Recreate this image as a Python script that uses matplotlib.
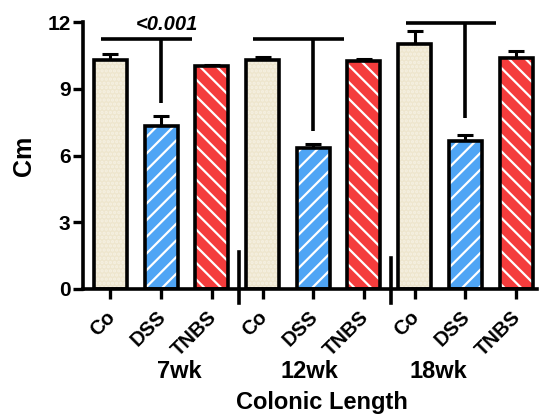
import numpy as np
import matplotlib
matplotlib.use("Agg")
import matplotlib.pyplot as plt

plt.rcParams["font.family"] = ["Liberation Sans", "DejaVu Sans"]
plt.rcParams["font.weight"] = "bold"
plt.rcParams["hatch.linewidth"] = 1.6

groups = ["7wk", "12wk", "18wk"]
treatments = ["Co", "DSS", "TNBS"]
means = [10.29, 7.33, 10.02, 10.29, 6.32, 10.25, 11.0, 6.67, 10.37]
errors = [0.26, 0.45, 0.04, 0.12, 0.20, 0.10, 0.61, 0.25, 0.34]
p_label = "<0.001"
bracket_y = [11.22, 11.22, 11.94]
bracket_bottom = [8.35, 7.11, 7.67]

fills = {"Co": "#EEE6CE", "DSS": "#4FA5F5", "TNBS": "#F43C3C"}
hatches = {"Co": "....", "DSS": "//", "TNBS": "\\\\"}
hatch_cols = {"Co": "#F6F1E3", "DSS": "white", "TNBS": "white"}

fig = plt.figure(figsize=(5.39, 4.17), dpi=100)
ax = fig.add_axes([0.154, 0.307, 0.842, 0.640])

x = np.arange(len(means))
labels = treatments * len(groups)
w = 0.65
for xi, m, e, lab in zip(x, means, errors, labels):
    ax.bar(xi, m, width=w, color=fills[lab], edgecolor=hatch_cols[lab],
           hatch=hatches[lab], linewidth=0, zorder=2)
    ax.bar(xi, m, width=w, facecolor="none", edgecolor="black",
           linewidth=2.6, zorder=3)
    ax.errorbar(xi, m, yerr=[[0], [e]], color="black", capsize=6,
                elinewidth=2.2, capthick=2.2, zorder=1)

# significance brackets
for g in range(len(groups)):
    c = g * 3
    ax.plot([c - 0.18, c + 1.61], [bracket_y[g]] * 2, color="black",
            lw=2.6, clip_on=False, solid_capstyle="butt")
    ax.plot([c + 1, c + 1], [bracket_y[g], bracket_bottom[g]], color="black",
            lw=2.6, clip_on=False, solid_capstyle="butt")
ax.text(1.12, 11.9, p_label, ha="center", va="center", fontsize=14.5,
        fontstyle="italic", fontweight="bold")

# axis break marks
for bx, top in [(2.53, 1.66), (5.53, 1.39)]:
    ax.plot([bx, bx], [top, -0.63], color="black", lw=2.6, clip_on=False)

ax.set_xlim(-0.54, 8.41)
ax.set_ylim(0, 12)
ax.set_yticks([0, 3, 6, 9, 12])
ax.set_xticks(x)
ax.set_xticklabels([])
# rotated category labels, placed by hand to sit tight under the ticks
for xi, lab in zip(x, labels):
    ax.annotate(lab, xy=(xi, 0), xycoords=("data", "axes fraction"),
                xytext=(-3.6, -13.3), textcoords="offset points",
                rotation=45, ha="right", va="top", rotation_mode="anchor",
                fontsize=14.5, fontweight="bold")
ax.tick_params(axis="x", length=7, width=2.4)
ax.tick_params(axis="y", length=7, width=2.4, labelsize=15, pad=2)
for lab in ax.get_yticklabels():
    lab.set_fontweight("bold")
for s in ["top", "right"]:
    ax.spines[s].set_visible(False)
for s in ["left", "bottom"]:
    ax.spines[s].set_linewidth(2.6)

ax.set_ylabel("Cm", fontsize=18, fontweight="bold", labelpad=8)

for g, gx in zip(groups, [1.36, 3.93, 6.46]):
    ax.text(gx, -3.69, g, ha="center", va="center", fontsize=17,
            fontweight="bold")
ax.text(4.18, -5.12, "Colonic Length", ha="center", va="center",
        fontsize=17, fontweight="bold")

fig.savefig("out.png", dpi=100)
